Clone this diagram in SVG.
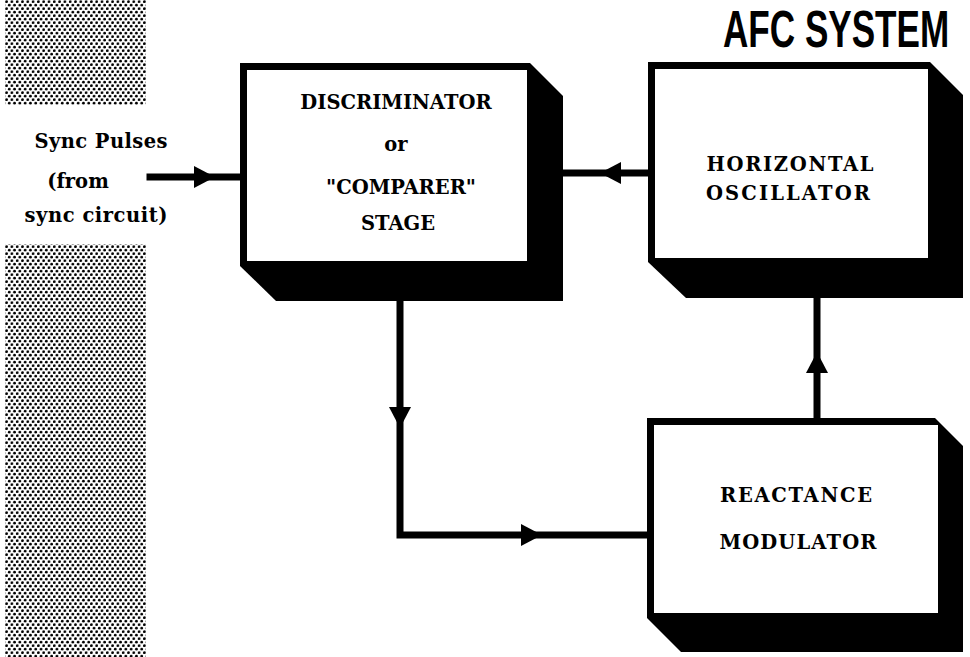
<svg xmlns="http://www.w3.org/2000/svg" xmlns:xlink="http://www.w3.org/1999/xlink" width="970" height="657" viewBox="0 0 970 657">
  <style>
    .lbl { font-family: "DejaVu Serif", "Liberation Serif", serif; font-weight: bold; font-size: 19.5px; fill: #000; text-anchor: middle; }
    .title { font-family: "Liberation Sans", Arial, sans-serif; font-weight: bold; font-size: 52px; fill: #000; }
    .shadow { fill: #000; }
    .face { fill: #fff; }
    .wire { stroke: #000; stroke-width: 7; fill: none; stroke-linecap: square; }
  </style>
  <defs>
    <pattern id="dots" width="5.3" height="7" patternUnits="userSpaceOnUse">
      <circle cx="1.3" cy="1.7" r="1.35" fill="#000"/>
      <circle cx="3.95" cy="5.2" r="1.35" fill="#000"/>
    </pattern>
    <polygon id="ah" points="0,0 -21,-11 -21,11" fill="#000"/>
  </defs>
  <rect width="970" height="657" fill="#fff"/>
  <g id="screen">
    <rect x="5" y="0" width="141" height="105" fill="url(#dots)"/>
    <rect x="5" y="244" width="141" height="413" fill="url(#dots)"/>
  </g>
  <text class="title" transform="translate(723,47) scale(0.675,1)">AFC SYSTEM</text>

  <g id="input-label">
    <text class="lbl" x="101" y="148" textLength="133">Sync Pulses</text>
    <text class="lbl" x="78" y="188">(from</text>
    <text class="lbl" x="96" y="222" textLength="143">sync circuit)</text>
  </g>

  <g id="discriminator">
    <polygon class="shadow" points="240,63 530,63 563,96 563,301 276,301 240,266"/>
    <rect class="face" x="247" y="70" width="280" height="191"/>
    <text class="lbl" x="396" y="109">DISCRIMINATOR</text>
    <text class="lbl" x="396" y="151">or</text>
    <text class="lbl" x="401" y="194">"COMPARER"</text>
    <text class="lbl" x="398" y="230">STAGE</text>
  </g>

  <g id="horizontal-oscillator">
    <polygon class="shadow" points="648,62 930,62 963,95 963,298 686,298 648,262"/>
    <rect class="face" x="655" y="69" width="273" height="189"/>
    <text class="lbl" x="790" y="171" textLength="167">HORIZONTAL</text>
    <text class="lbl" x="788" y="200" textLength="164">OSCILLATOR</text>
  </g>

  <g id="reactance-modulator">
    <polygon class="shadow" points="647,418 935,418 963,446 963,652 681,652 647,618"/>
    <rect class="face" x="654" y="425" width="284" height="188"/>
    <text class="lbl" x="796" y="502" textLength="152">REACTANCE</text>
    <text class="lbl" x="798" y="549" textLength="157">MODULATOR</text>
  </g>

  <g id="connectors">
    <line class="wire" x1="150" y1="177" x2="240" y2="177"/>
    <use xlink:href="#ah" transform="translate(215,177)"/>
    <line class="wire" x1="648" y1="173" x2="563" y2="173"/>
    <use xlink:href="#ah" transform="translate(600,173) rotate(180)"/>
    <polyline class="wire" points="400,301 400,535 647,535" stroke-linecap="butt"/>
    <use xlink:href="#ah" transform="translate(400,428) rotate(90)"/>
    <use xlink:href="#ah" transform="translate(542,535)"/>
    <line class="wire" x1="817" y1="418" x2="817" y2="298" stroke-linecap="butt"/>
    <use xlink:href="#ah" transform="translate(817,352) rotate(-90)"/>
  </g>
</svg>
